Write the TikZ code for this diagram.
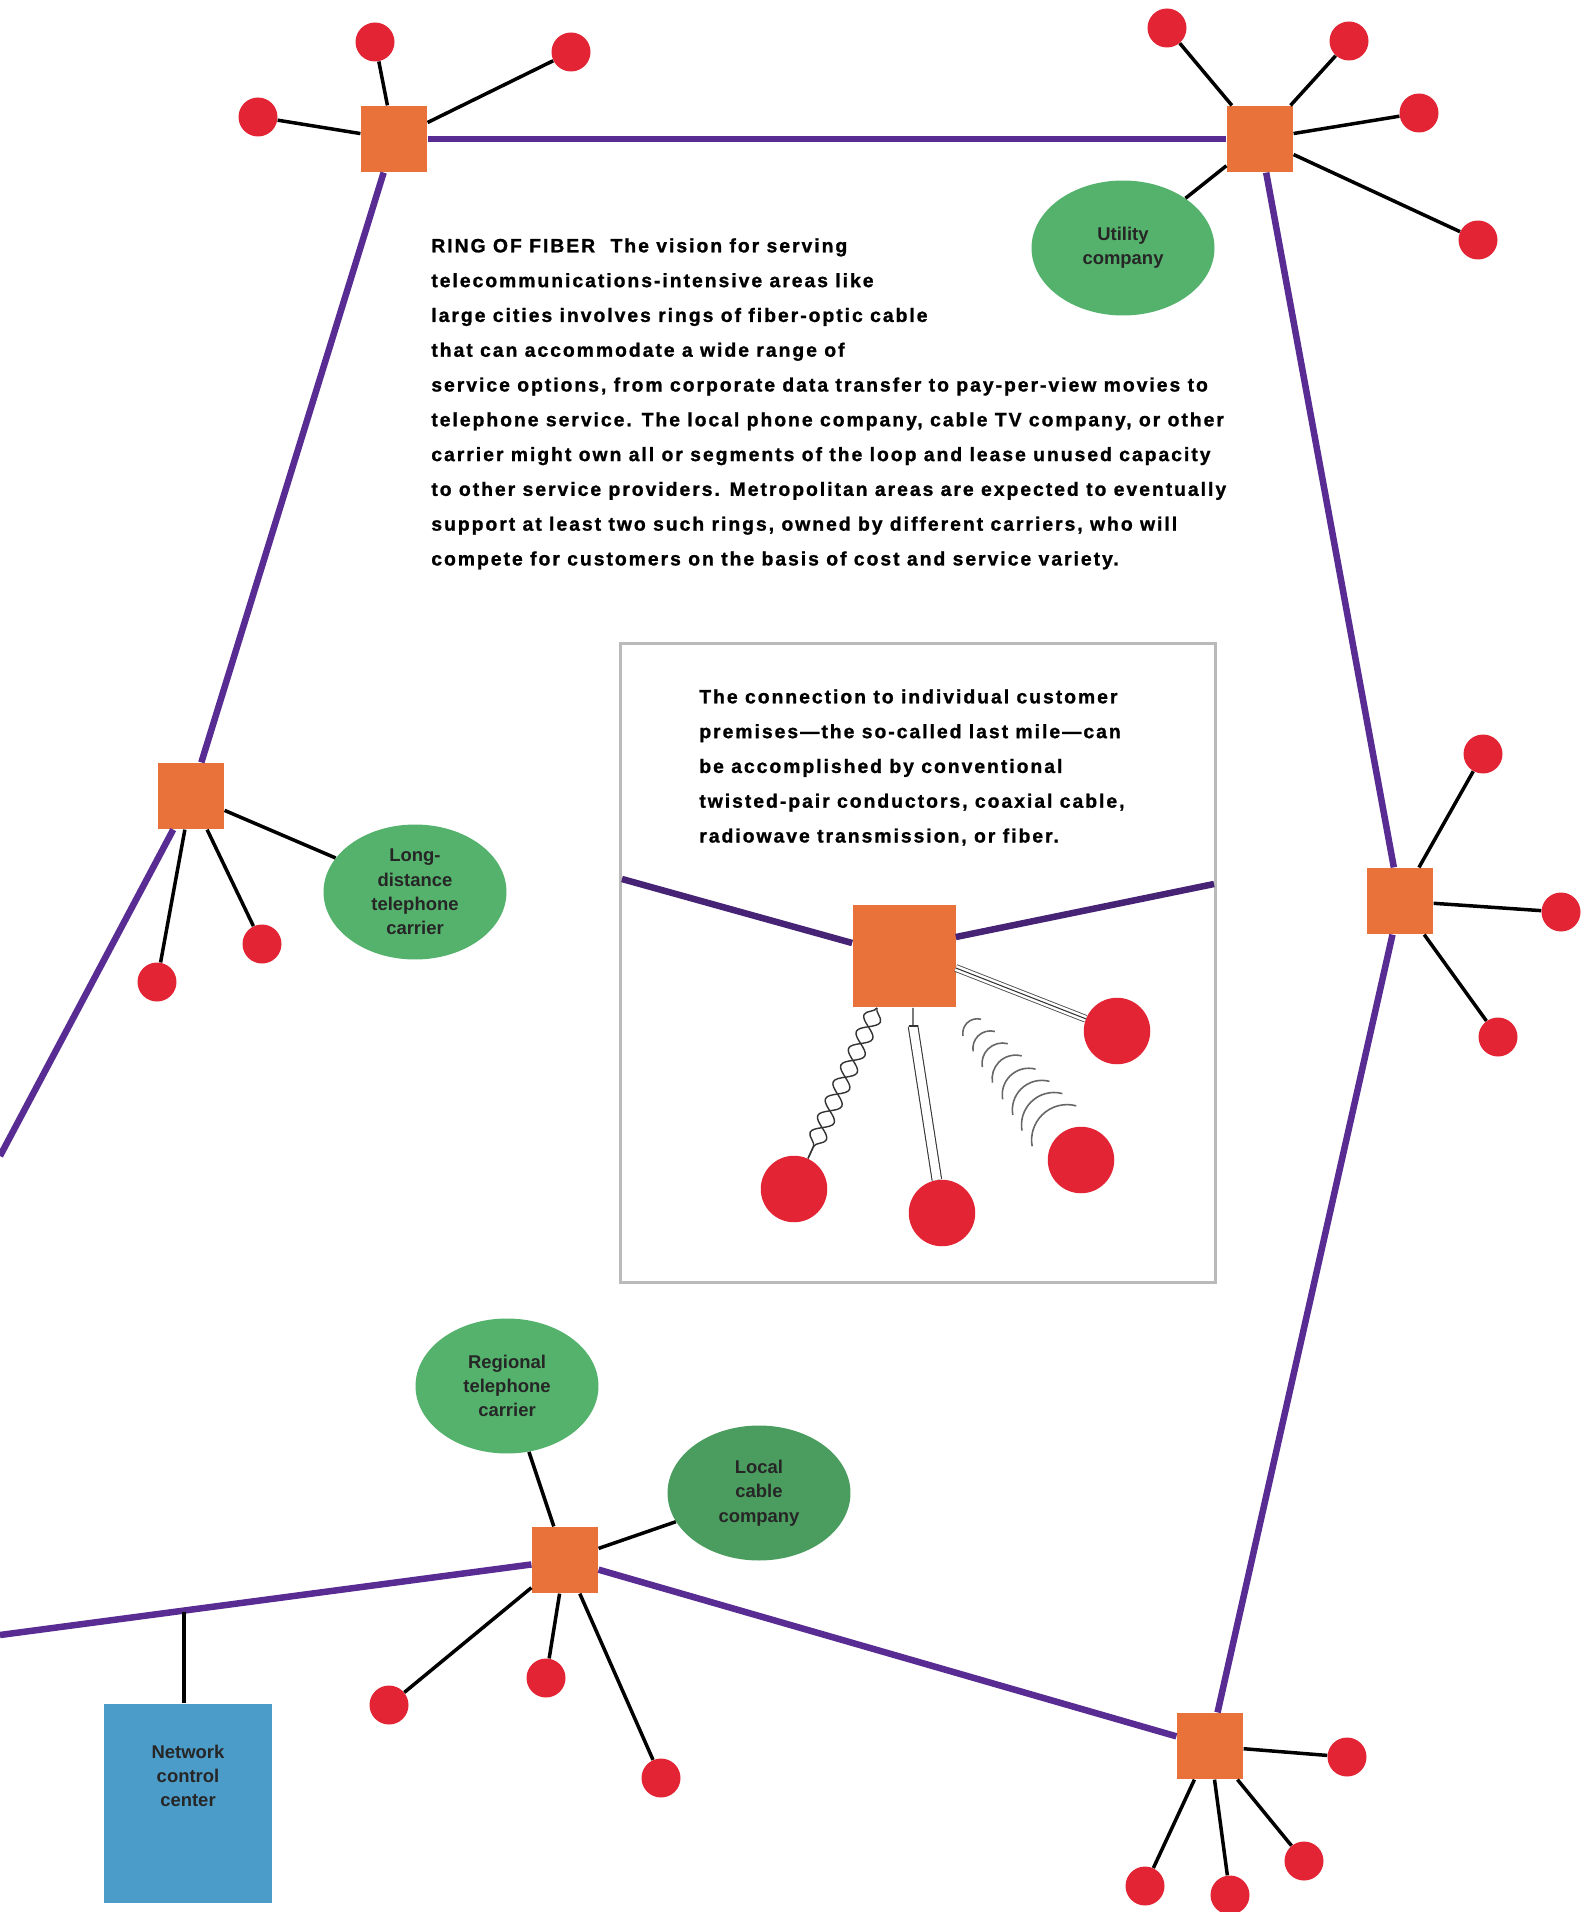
\documentclass[tikz,border=0pt]{standalone}
\usepackage{fontspec}
\setmainfont{Liberation Sans}
\newfontfamily\capfont[LetterSpace=10.3,FakeBold=1.2]{Liberation Sans Bold}
\usepackage{xcolor}
\usetikzlibrary{shapes.geometric,decorations.pathmorphing}
\definecolor{huborange}{RGB}{232,114,58}
\definecolor{dropred}{RGB}{226,36,52}
\definecolor{ringpurple}{RGB}{88,44,146}
\definecolor{carriergreen}{RGB}{84,178,108}
\definecolor{nccblue}{RGB}{76,156,202}

\begin{document}
\begin{tikzpicture}[
    x=0.02cm, y=-0.02cm,
    hub/.style={fill=huborange, minimum size=1.33cm, inner sep=0},
    drop/.style={circle, fill=dropred, minimum size=0.78cm, inner sep=0},
    bigdrop/.style={circle, fill=dropred, minimum size=1.33cm, inner sep=0},
    carrier/.style={ellipse, fill=carriergreen, minimum width=3.66cm, minimum height=2.7cm, inner sep=0, align=center, font=\bfseries\fontsize{10.5}{13.8}\selectfont, text=black!85},
    ncc/.style={fill=nccblue, minimum width=3.36cm, minimum height=3.98cm, inner sep=0},
    tag/.style={align=center, inner sep=0, font=\bfseries\fontsize{10.5}{13.8}\selectfont, text=black!85},
    caption/.style={align=left, inner sep=0, anchor=north west, font=\capfont\fontsize{11}{19.8}\selectfont},
    frame/.style={draw=black!27, line width=0.06cm, minimum width=11.92cm, minimum height=12.8cm, inner sep=0},
    ring/.style={draw=ringpurple, line width=0.13cm},
    spoke/.style={draw=black, line width=0.07cm},
    hair/.style={draw=black!80, line width=0.6pt},
    twist/.style={draw=black!80, line width=0.8pt, decorate, decoration={snake, segment length=0.74cm, amplitude=0.18cm}},
    coax/.style={draw=black!80, line width=0.6pt, double=white, double distance=0.17cm},
    fibre/.style={draw=black!70, line width=0.5pt, double=white, double distance=0.12cm},
    wave/.style={draw=black!60, line width=0.9pt}
]
\fill[white] (0,0) rectangle (1583,1912);
\useasboundingbox (0,0) rectangle (1583,1912);

% ring hubs
\node[hub] (tl) at (394,139) {};
\node[hub] (tr) at (1260,139) {};
\node[hub] (rm) at (1400,901) {};
\node[hub] (br) at (1210,1746) {};
\node[hub] (bm) at (565,1560) {};
\node[hub] (lm) at (191,796) {};
\coordinate (ringW) at (0,1635);
\coordinate (ringSW) at (0,1156);

\draw[ring] (ringSW) -- (lm);
\draw[ring] (lm) -- (tl);
\draw[ring] (tl) -- (tr);
\draw[ring] (tr) -- (rm);
\draw[ring] (rm) -- (br);
\draw[ring] (br) -- (bm);
\draw[ring] (bm) -- (ringW);

% customers
\node[drop] (tl1) at (258,117) {};
\node[drop] (tl2) at (375,42) {};
\node[drop] (tl3) at (571,52) {};
\node[drop] (tr1) at (1167,28) {};
\node[drop] (tr2) at (1349,41) {};
\node[drop] (tr3) at (1419,113) {};
\node[drop] (tr4) at (1478,240) {};
\node[drop] (rm1) at (1483,754) {};
\node[drop] (rm2) at (1561,912) {};
\node[drop] (rm3) at (1498,1037) {};
\node[drop] (br1) at (1347,1757) {};
\node[drop] (br2) at (1304,1861) {};
\node[drop] (br3) at (1230,1895) {};
\node[drop] (br4) at (1145,1886) {};
\node[drop] (bm1) at (389,1705) {};
\node[drop] (bm2) at (546,1678) {};
\node[drop] (bm3) at (661,1778) {};
\node[drop] (lm1) at (157,982) {};
\node[drop] (lm2) at (262,944) {};

\node[carrier] (util) at (1123,248) {Utility\\company};
\node[carrier] (longd) at (415,892) {Long-\\distance\\telephone\\carrier};
\node[carrier] (regional) at (507,1386) {Regional\\telephone\\carrier};
\node[carrier, fill=carriergreen!88!black] (localtv) at (759,1493) {Local\\cable\\company};

\node[ncc] (ncc) at (188,1803) {};
\node[tag] (ncclabel) at (188,1776) {Network\\control\\center};
\coordinate (tap) at (184,1612);

\draw[spoke] (tl) -- (tl1);
\draw[spoke] (tl) -- (tl2);
\draw[spoke] (tl) -- (tl3);
\draw[spoke] (tr) -- (tr1);
\draw[spoke] (tr) -- (tr2);
\draw[spoke] (tr) -- (tr3);
\draw[spoke] (tr) -- (tr4);
\draw[spoke] (tr) -- (util);
\draw[spoke] (rm) -- (rm1);
\draw[spoke] (rm) -- (rm2);
\draw[spoke] (rm) -- (rm3);
\draw[spoke] (br) -- (br1);
\draw[spoke] (br) -- (br2);
\draw[spoke] (br) -- (br3);
\draw[spoke] (br) -- (br4);
\draw[spoke] (bm) -- (bm1);
\draw[spoke] (bm) -- (bm2);
\draw[spoke] (bm) -- (bm3);
\draw[spoke] (bm) -- (regional);
\draw[spoke] (bm) -- (localtv);
\draw[spoke] (lm) -- (lm1);
\draw[spoke] (lm) -- (lm2);
\draw[spoke] (lm) -- (longd);
\draw[spoke] (tap) -- (tap |- ncc.north);

\node[caption] (ringtext) at (431,238) {RING OF FIBER\hspace{0.8em}The vision for serving\\
telecommunications-intensive areas like\\
large cities involves rings of fiber-optic cable\\
that can accommodate a wide range of\\
service options, from corporate data transfer to pay-per-view movies to\\
telephone service. The local phone company, cable TV company, or other\\
carrier might own all or segments of the loop and lease unused capacity\\
to other service providers. Metropolitan areas are expected to eventually\\
support at least two such rings, owned by different carriers, who will\\
compete for customers on the basis of cost and service variety.};

% last-mile inset
\node[frame] (inset) at (918,963) {};
\node[caption] (insettext) at (699,689) {The connection to individual customer\\
premises—the so-called last mile—can\\
be accomplished by conventional\\
twisted-pair conductors, coaxial cable,\\
radiowave transmission, or fiber.};

\node[hub, minimum size=2.06cm] (ihub) at (904,956) {};
\node[bigdrop] (tw) at (794,1189) {};
\node[bigdrop] (cx) at (942,1213) {};
\node[bigdrop] (rw) at (1081,1160) {};
\node[bigdrop] (fb) at (1117,1031) {};
\coordinate (insW) at (622,879);
\coordinate (insE) at (1214,884);
\coordinate (cxtop) at (913,1026);

\draw[ring, draw=ringpurple!80!black] (insW) -- ([yshift=0.26cm]ihub.west);
\draw[ring, draw=ringpurple!80!black] ([yshift=0.38cm]ihub.east) -- (insE);

\draw[twist] ([xshift=-0.54cm]ihub.south) -- (tw);
\draw[twist, decoration={mirror}] ([xshift=-0.54cm]ihub.south) -- (tw);
\draw[hair] ([xshift=0.18cm]ihub.south) -- (cxtop);
\draw[coax] (cxtop) -- (cx);
\draw[hair] (cxtop) ++(-0.09cm,0) -- ++(0.18cm,0);
\draw[fibre] ([yshift=-0.24cm]ihub.east) -- (fb);
\draw[hair] ([yshift=-0.24cm]ihub.east) -- (fb);

\draw[wave] (967,1023) ++(-45:0.29cm) ++(75:0.29cm) arc[start angle=75, end angle=190, radius=0.29cm];
\draw[wave] (978,1036) ++(-45:0.35cm) ++(75:0.35cm) arc[start angle=75, end angle=190, radius=0.35cm];
\draw[wave] (988,1049) ++(-45:0.41cm) ++(75:0.41cm) arc[start angle=75, end angle=190, radius=0.41cm];
\draw[wave] (999,1062) ++(-45:0.47cm) ++(75:0.47cm) arc[start angle=75, end angle=190, radius=0.47cm];
\draw[wave] (1010,1076) ++(-45:0.53cm) ++(75:0.53cm) arc[start angle=75, end angle=190, radius=0.53cm];
\draw[wave] (1021,1089) ++(-45:0.59cm) ++(75:0.59cm) arc[start angle=75, end angle=190, radius=0.59cm];
\draw[wave] (1031,1102) ++(-45:0.65cm) ++(75:0.65cm) arc[start angle=75, end angle=190, radius=0.65cm];
\draw[wave] (1042,1115) ++(-45:0.71cm) ++(75:0.71cm) arc[start angle=75, end angle=190, radius=0.71cm];
\end{tikzpicture}
\end{document}
